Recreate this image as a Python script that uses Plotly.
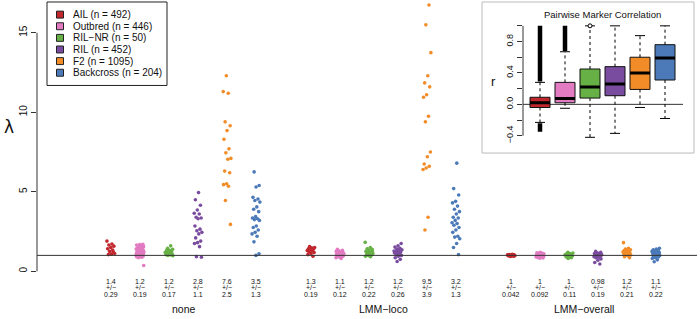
import plotly.graph_objects as go

W, H = 700, 319
ML, MR, MT, MB = 37, 3, 0, 0
PW = W - ML - MR
FONT = "Liberation Sans, Arial, sans-serif"

# ---------------- data ----------------
strains = ["AIL", "Outbred", "RIL\u2212NR", "RIL", "F2", "Backcross"]
strain_n = [492, 446, 50, 452, 1095, 204]
colors = ["#C1272D", "#E27BC2", "#67B045", "#7A4C9F", "#F28C28", "#4C7AB8"]
methods = ["none", "LMM\u2212loco", "LMM\u2212overall"]

none_AIL = [1.9, 1.72, 1.65, 1.58, 1.5, 1.42, 1.33, 1.25, 1.12, 1.08, 1.05, 1.2]
none_Outbred = [1.7, 1.68, 1.65, 1.6, 1.58, 1.55, 1.5, 1.48, 1.45, 1.42, 1.4, 1.38, 1.35, 1.33,
                1.3, 1.28, 1.26, 1.24, 1.22, 1.2, 1.18, 1.16, 1.15, 1.13, 1.12, 1.1, 1.08, 1.06,
                1.05, 1.03, 1.02, 1.0, 0.98, 0.96, 0.94, 0.92, 0.9, 0.88, 0.86, 0.36]
none_RILNR = [1.6, 1.45, 1.38, 1.32, 1.28, 1.25, 1.2, 1.18, 1.15, 1.12, 1.1, 1.08, 1.05, 1.02,
              1.0, 0.98, 1.22, 1.3]
none_RIL = [4.95, 4.5, 4.15, 3.85, 3.65, 3.6, 3.4, 3.35, 3.3, 2.85, 2.65, 2.55, 2.45, 2.35, 2.1,
            1.9, 1.8, 1.75, 1.55, 0.92, 0.88]
none_F2 = [12.3, 11.3, 11.2, 9.4, 9.15, 8.85, 8.3, 7.7, 7.45, 7.1, 7.05, 6.3, 6.2, 5.5, 5.45,
           5.35, 4.45, 2.95]
none_BC = [6.25, 5.4, 5.3, 4.65, 4.55, 4.45, 4.35, 4.05, 3.9, 3.75, 3.45, 3.35, 3.3, 3.25, 3.2,
           2.85, 2.75, 2.6, 2.45, 2.35, 2.2, 1.85, 1.1, 1.0]

loco_AIL = [1.55, 1.5, 1.48, 1.42, 1.38, 1.35, 1.3, 1.28, 1.22, 1.18, 1.12, 1.05, 0.95, 1.4]
loco_Outbred = [1.38, 1.32, 1.28, 1.25, 1.22, 1.2, 1.18, 1.16, 1.15, 1.13, 1.12, 1.1, 1.09, 1.08,
                1.06, 1.05, 1.04, 1.02, 1.0, 0.98, 0.96, 0.94, 0.92, 0.9, 0.85, 0.8, 1.14, 1.11,
                1.07, 1.03]
loco_RILNR = [1.82, 1.5, 1.42, 1.38, 1.3, 1.25, 1.2, 1.15, 1.12, 1.08, 1.05, 1.02, 1.0, 0.95,
              0.92, 1.1, 1.28, 0.98]
loco_RIL = [1.75, 1.6, 1.52, 1.45, 1.4, 1.35, 1.3, 1.25, 1.22, 1.18, 1.15, 1.1, 1.05, 1.0, 0.95,
            0.85, 0.75, 0.62, 1.28, 1.12]
loco_F2 = [16.75, 15.5, 13.75, 12.3, 11.85, 11.6, 11.1, 10.95, 9.75, 9.4, 7.5, 7.2, 6.75, 6.6,
           6.5, 6.4, 3.4, 2.6]
loco_BC = [6.8, 5.2, 4.8, 4.4, 4.3, 4.1, 3.9, 3.75, 3.6, 3.4, 3.35, 3.2, 3.05, 3.0, 2.9, 2.75,
           2.6, 2.45, 2.2, 2.15, 2.05, 1.75, 1.5, 1.05]

overall_AIL = [1.07, 1.05, 1.04, 1.02, 1.01, 1.0, 0.99, 0.98, 0.97, 0.96, 0.95, 0.93, 1.03, 1.0]
overall_Outbred = [1.2, 1.17, 1.14, 1.12, 1.1, 1.08, 1.06, 1.05, 1.03, 1.02, 1.0, 0.99, 0.98,
                   0.97, 0.95, 0.94, 0.92, 0.9, 0.88, 0.86, 0.84, 0.82, 1.04, 0.96, 1.01, 0.93]
overall_RILNR = [1.2, 1.15, 1.12, 1.1, 1.07, 1.05, 1.02, 1.0, 0.98, 0.96, 0.93, 0.9, 0.85, 0.8,
                 1.03, 0.97]
overall_RIL = [1.25, 1.2, 1.15, 1.12, 1.1, 1.07, 1.05, 1.02, 1.0, 0.98, 0.95, 0.92, 0.88, 0.85,
               0.78, 0.7, 0.55, 0.46, 1.08, 1.03]
overall_F2 = [1.8, 1.45, 1.4, 1.35, 1.32, 1.3, 1.28, 1.25, 1.22, 1.2, 1.18, 1.15, 1.12, 1.1, 1.08,
              1.05, 1.02, 0.98, 0.92, 0.85]
overall_BC = [1.45, 1.4, 1.35, 1.3, 1.28, 1.25, 1.22, 1.2, 1.15, 1.12, 1.1, 1.05, 1.02, 1.0, 0.98,
              0.95, 0.9, 0.85, 0.8, 0.72, 0.6, 1.18]

lambda_none = [none_AIL, none_Outbred, none_RILNR, none_RIL, none_F2, none_BC]
lambda_loco = [loco_AIL, loco_Outbred, loco_RILNR, loco_RIL, loco_F2, loco_BC]
lambda_overall = [overall_AIL, overall_Outbred, overall_RILNR, overall_RIL, overall_F2, overall_BC]

mean_none = ["1.4", "1.2", "1.2", "2.8", "7.6", "3.5"]
sd_none = ["0.29", "0.19", "0.17", "1.1", "2.5", "1.3"]
mean_loco = ["1.3", "1.1", "1.2", "1.2", "9.5", "3.2"]
sd_loco = ["0.19", "0.12", "0.22", "0.26", "3.9", "1.3"]
mean_overall = ["1", "1", "1", "0.98", "1.2", "1.1"]
sd_overall = ["0.042", "0.092", "0.11", "0.19", "0.21", "0.22"]

main_yticks = [0, 5, 10, 15]

# inset: pairwise marker correlation box stats
r_q1 = [-0.04, 0.02, 0.08, 0.11, 0.19, 0.31]
r_median = [0.02, 0.075, 0.22, 0.26, 0.40, 0.59]
r_q3 = [0.09, 0.28, 0.45, 0.48, 0.60, 0.76]
r_whisk_lo = [-0.23, -0.05, -0.42, -0.37, -0.04, -0.18]
r_whisk_hi = [0.28, 0.67, 1.0, 1.0, 0.875, 1.0]
r_out_hi_from = [0.29, 0.68, None, None, None, None]
r_out_lo_from = [-0.24, None, None, None, None, None]
r_out_lo_to = [-0.35, None, None, None, None, None]
r_out_point = [None, None, 1.0, None, None, None]
inset_yticks = [-0.4, -0.2, 0.0, 0.2, 0.4, 0.6, 0.8, 1.0]
inset_yticklabels = ["\u22120.4", "", "0.0", "", "0.4", "", "0.8", ""]

# ---------------- helpers ----------------
def px2paper_x(px):
    return (px - ML) / PW

def py2paper_y(py):
    return (H - MB - py) / (H - MT - MB)

GROUP_GAP = 200 / 29.0
X0_PX = 111
UNIT_PX = 29.0

def xpos(g, i):
    return i + g * GROUP_GAP

def jitter(k, w=0.14):
    return (((k * 0.6180339887) % 1.0) - 0.5) * 2 * w

fig = go.Figure()

all_groups = [lambda_none, lambda_loco, lambda_overall]
for g, grp in enumerate(all_groups):
    for i, vals in enumerate(grp):
        xs = [xpos(g, i) + jitter(k + 3 * i + 7 * g) for k in range(len(vals))]
        fig.add_trace(go.Scatter(
            x=xs, y=vals, mode="markers",
            marker=dict(size=3.6, color=colors[i], line=dict(width=0)),
            showlegend=False, hoverinfo="y", xaxis="x", yaxis="y"))

# ---------------- inset boxes ----------------
pos = list(range(1, 7))
for i in range(6):
    fig.add_trace(go.Box(
        x=[pos[i]], q1=[r_q1[i]], median=[r_median[i]], q3=[r_q3[i]],
        lowerfence=[r_q1[i]], upperfence=[r_q3[i]],
        fillcolor=colors[i], line=dict(color="#111111", width=1),
        width=0.8, whiskerwidth=0, showlegend=False, boxpoints=False,
        xaxis="x2", yaxis="y2", hoverinfo="skip"))
    # median (thick)
    fig.add_trace(go.Scatter(x=[pos[i] - 0.4, pos[i] + 0.4], y=[r_median[i]] * 2, mode="lines",
                             line=dict(color="black", width=3), showlegend=False,
                             xaxis="x2", yaxis="y2", hoverinfo="skip"))
    # dashed whiskers
    for a, b in [(r_q3[i], r_whisk_hi[i]), (r_q1[i], r_whisk_lo[i])]:
        fig.add_trace(go.Scatter(x=[pos[i], pos[i]], y=[a, b], mode="lines",
                                 line=dict(color="black", width=1, dash="3px,3px"),
                                 showlegend=False, xaxis="x2", yaxis="y2", hoverinfo="skip"))
        fig.add_trace(go.Scatter(x=[pos[i] - 0.2, pos[i] + 0.2], y=[b, b], mode="lines",
                                 line=dict(color="black", width=1),
                                 showlegend=False, xaxis="x2", yaxis="y2", hoverinfo="skip"))
    if r_out_hi_from[i] is not None:
        fig.add_trace(go.Scatter(x=[pos[i], pos[i]], y=[r_out_hi_from[i], 1.0], mode="lines",
                                 line=dict(color="black", width=4.5),
                                 showlegend=False, xaxis="x2", yaxis="y2", hoverinfo="skip"))
    if r_out_lo_from[i] is not None:
        fig.add_trace(go.Scatter(x=[pos[i], pos[i]], y=[r_out_lo_from[i], r_out_lo_to[i]],
                                 mode="lines", line=dict(color="black", width=4.5),
                                 showlegend=False, xaxis="x2", yaxis="y2", hoverinfo="skip"))
    if r_out_point[i] is not None:
        fig.add_trace(go.Scatter(x=[pos[i]], y=[r_out_point[i]], mode="markers",
                                 marker=dict(size=4, color="white", line=dict(color="black", width=1)),
                                 showlegend=False, xaxis="x2", yaxis="y2", hoverinfo="skip"))

shapes = []
ann = []
AX = "#333333"

# main y axis line from 0 to 15
shapes.append(dict(type="line", xref="x domain", yref="y", x0=0, x1=0, y0=min(main_yticks),
                   y1=max(main_yticks), line=dict(color=AX, width=1)))
# reference line at lambda = 1
shapes.append(dict(type="line", xref="x domain", yref="y", x0=0, x1=1, y0=1, y1=1,
                   line=dict(color=AX, width=1)))

# summary text
means = [mean_none, mean_loco, mean_overall]
sds = [sd_none, sd_loco, sd_overall]
yl = [(273 - 283.5) / 16, (273 - 289.8) / 16, (273 - 296.2) / 16]
for g in range(3):
    for i in range(6):
        for txt, yv in zip([means[g][i], "+/\u2212", sds[g][i]], yl):
            ann.append(dict(x=xpos(g, i), y=yv, xref="x", yref="y", text=txt, showarrow=False,
                            font=dict(family=FONT, size=7, color="#111111"),
                            xanchor="center", yanchor="middle"))
    ann.append(dict(x=xpos(g, 2.5), y=(273 - 311) / 16, xref="x", yref="y", text=methods[g],
                    showarrow=False, font=dict(family=FONT, size=10.5, color="#111111"),
                    xanchor="center", yanchor="middle"))

# lambda label
ann.append(dict(x=px2paper_x(9), y=py2paper_y(128), xref="paper", yref="paper", text="\u03bb",
                showarrow=False, font=dict(family="DejaVu Sans, sans-serif", size=17, color="#111111"),
                xanchor="center", yanchor="middle"))

# legend (manual)
shapes.append(dict(type="rect", xref="paper", yref="paper", x0=px2paper_x(47), x1=px2paper_x(167),
                   y0=py2paper_y(86), y1=py2paper_y(2), line=dict(color="#222222", width=1),
                   fillcolor="white"))
for i in range(6):
    cy = 14.7 + i * 11.7
    shapes.append(dict(type="rect", xref="paper", yref="paper", x0=px2paper_x(56.5),
                       x1=px2paper_x(63.5), y0=py2paper_y(cy + 3.5), y1=py2paper_y(cy - 3.5),
                       fillcolor=colors[i], line=dict(color="#222222", width=1)))
    ann.append(dict(x=px2paper_x(71), y=py2paper_y(cy), xref="paper", yref="paper",
                    text=f"{strains[i]} (n = {strain_n[i]})", showarrow=False,
                    font=dict(family=FONT, size=10, color="#111111"),
                    xanchor="left", yanchor="middle"))

# inset frame
shapes.append(dict(type="rect", xref="paper", yref="paper", x0=px2paper_x(482), x1=px2paper_x(694),
                   y0=py2paper_y(154), y1=py2paper_y(2), line=dict(color="#BBBBBB", width=1),
                   fillcolor="white", layer="below"))
# inset axis line
shapes.append(dict(type="line", xref="x2 domain", yref="y2", x0=0, x1=0, y0=-0.4, y1=1.0,
                   line=dict(color=AX, width=1)))
# inset zero line
shapes.append(dict(type="line", xref="x2 domain", yref="y2", x0=0, x1=1, y0=0, y1=0,
                   line=dict(color=AX, width=1), layer="below"))
ann.append(dict(x=px2paper_x(602), y=py2paper_y(15), xref="paper", yref="paper",
                text="Pairwise Marker Correlation", showarrow=False,
                font=dict(family=FONT, size=9.5, color="#111111"), xanchor="center", yanchor="middle"))
ann.append(dict(x=px2paper_x(493), y=py2paper_y(82), xref="paper", yref="paper", text="r",
                showarrow=False, font=dict(family=FONT, size=13, color="#111111"),
                xanchor="center", yanchor="middle"))

fig.update_layout(
    width=W, height=H, margin=dict(l=ML, r=MR, t=MT, b=MB, pad=0),
    paper_bgcolor="white", plot_bgcolor="rgba(0,0,0,0)",
    showlegend=False, shapes=shapes, annotations=ann,
    xaxis=dict(range=[(37 - X0_PX) / UNIT_PX, (697 - X0_PX) / UNIT_PX], visible=False,
               domain=[0, 1]),
    yaxis=dict(range=[(273 - 319) / 16, 273 / 16], domain=[0, 1], showgrid=False, zeroline=False,
               showline=False, tickvals=main_yticks, ticktext=[str(v) for v in main_yticks],
               ticks="outside", ticklen=5, tickcolor=AX, tickangle=-90,
               tickfont=dict(family=FONT, size=10, color="#111111")),
    xaxis2=dict(domain=[px2paper_x(523), px2paper_x(683)], range=[0.32, 6.72], visible=False,
                anchor="y2"),
    yaxis2=dict(domain=[py2paper_y(142), py2paper_y(20)], range=[(105 - 142) / 79, (105 - 20) / 79],
                anchor="x2", showgrid=False, zeroline=False, showline=False,
                tickvals=inset_yticks, ticktext=inset_yticklabels, ticks="outside", ticklen=5,
                tickcolor=AX, tickangle=-90, tickfont=dict(family=FONT, size=9, color="#111111")),
)

fig.write_html("out.html", config={"displayModeBar": False},
               post_script="document.body.style.margin='0';document.body.style.padding='0';")
